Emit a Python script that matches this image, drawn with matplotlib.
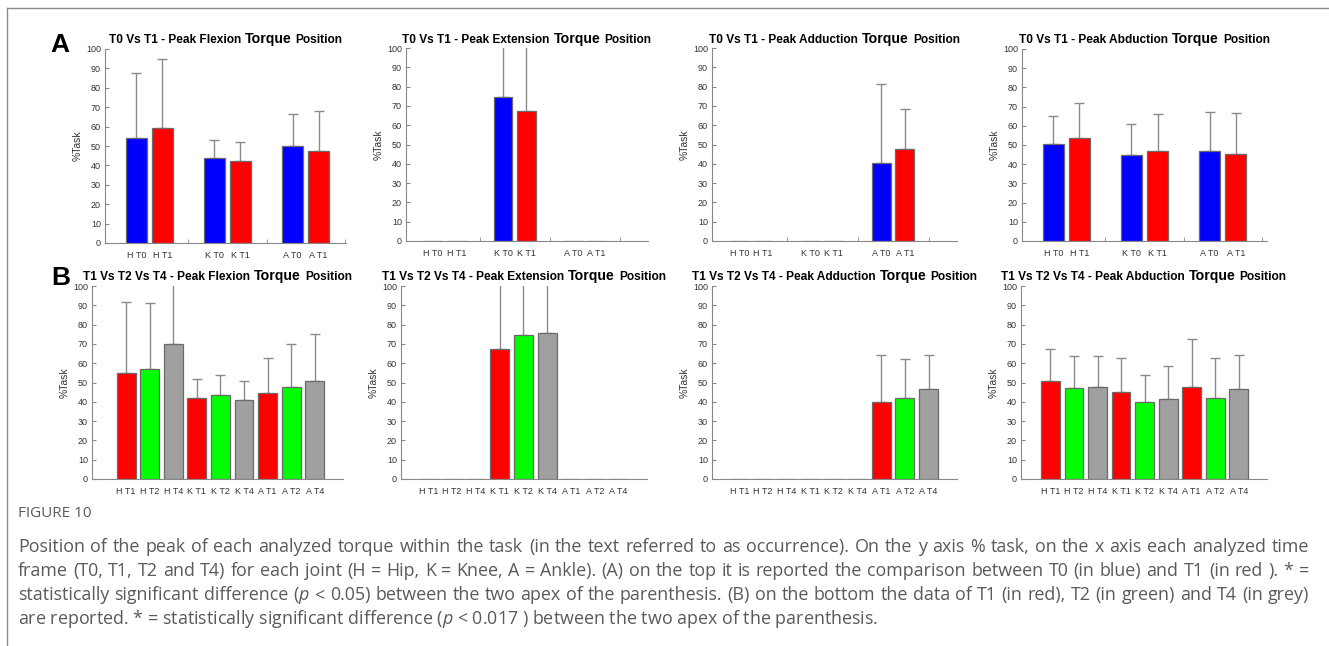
import numpy as np
import matplotlib
matplotlib.use("Agg")
import matplotlib.pyplot as plt
from matplotlib.lines import Line2D

W, H = 1329, 646
NA = np.nan

# --- data ---
top_labels = ["H T0", "H T1", "K T0", "K T1", "A T0", "A T1"]
top_pos = [1, 2, 4, 5, 7, 8]
top_colors = ["#0000ff", "#ff0000"] * 3

bot_labels = ["H T1", "H T2", "H T4", "K T1", "K T2", "K T4", "A T1", "A T2", "A T4"]
bot_pos = [1, 2, 3, 4, 5, 6, 7, 8, 9]
bot_colors = ["#ff0000", "#00ff00", "#a0a0a0"] * 3

flex_t01 = [54.0, 59.5, 43.7, 42.2, 50.1, 47.5]
flex_t01_sd = [33.8, 35.2, 9.3, 10.1, 16.3, 20.6]
ext_t01 = [NA, NA, 74.8, 67.5, NA, NA]
ext_t01_sd = [NA, NA, 40.0, 40.0, NA, NA]
add_t01 = [NA, NA, NA, NA, 40.3, 47.6]
add_t01_sd = [NA, NA, NA, NA, 41.0, 20.6]
abd_t01 = [50.6, 53.7, 44.7, 47.1, 46.8, 45.4]
abd_t01_sd = [14.6, 18.2, 16.1, 19.1, 20.6, 21.3]

flex_t124 = [55.0, 57.1, 70.2, 42.0, 43.6, 40.7, 44.8, 47.9, 50.9]
flex_t124_sd = [36.9, 34.2, 40.0, 9.9, 10.4, 10.2, 18.0, 22.3, 24.0]
ext_t124 = [NA, NA, NA, 67.5, 74.4, 75.6, NA, NA, NA]
ext_t124_sd = [NA, NA, NA, 40.0, 40.0, 40.0, NA, NA, NA]
add_t124 = [NA, NA, NA, NA, NA, NA, 40.1, 41.9, 46.7]
add_t124_sd = [NA, NA, NA, NA, NA, NA, 24.4, 20.4, 17.8]
abd_t124 = [51.0, 47.4, 47.6, 45.3, 40.0, 41.7, 47.9, 42.0, 46.7]
abd_t124_sd = [16.1, 16.1, 15.9, 17.2, 14.0, 17.0, 24.6, 20.5, 17.8]

panels = [
    # (pixel rect l, t, r, b), values, sd, row, movement, xlim
    ((105, 49, 346, 243), flex_t01, flex_t01_sd, "top", "Flexion", (-0.2, 9.05)),
    ((406, 48, 648, 241), ext_t01, ext_t01_sd, "top", "Extension", (-0.15, 10.2)),
    ((712, 48, 957, 241), add_t01, add_t01_sd, "top", "Adduction", (-0.15, 10.2)),
    ((1022, 49, 1267, 241), abd_t01, abd_t01_sd, "top", "Abduction", (-0.2, 9.2)),
    ((92, 286, 343, 479), flex_t124, flex_t124_sd, "bot", "Flexion", (-0.45, 10.2)),
    ((401, 286, 647, 479), ext_t124, ext_t124_sd, "bot", "Extension", (-0.15, 10.2)),
    ((712, 286, 957, 479), add_t124, add_t124_sd, "bot", "Adduction", (-0.15, 10.2)),
    ((1021, 286, 1267, 479), abd_t124, abd_t124_sd, "bot", "Abduction", (-0.25, 10.2)),
]

caption = [
    "Position of the peak of each analyzed torque within the task (in the text referred to as occurrence). On the y axis % task, on the x axis each analyzed time",
    "frame (T0, T1, T2 and T4) for each joint (H = Hip, K = Knee, A = Ankle). (A) on the top it is reported the comparison between T0 (in blue) and T1 (in red ). * =",
    r"statistically significant difference ($\mathit{p}$ < 0.05) between the two apex of the parenthesis. (B) on the bottom the data of T1 (in red), T2 (in green) and T4 (in grey)",
    r"are reported. * = statistically significant difference ($\mathit{p}$ < 0.017 ) between the two apex of the parenthesis.",
]

FONT = "Liberation Sans"
plt.rcParams["font.family"] = [FONT, "DejaVu Sans"]
plt.rcParams["mathtext.fontset"] = "custom"
plt.rcParams["mathtext.it"] = "Open Sans:italic"
plt.rcParams["mathtext.rm"] = "Open Sans"

fig = plt.figure(figsize=(W / 100, H / 100), dpi=100)
renderer = fig.canvas.get_renderer()


def px_rect(l, t, r, b):
    return [l / W, 1 - b / H, (r - l) / W, (b - t) / H]


def draw_title(ax, parts, base_px):
    """Title made of several bold pieces of different sizes, centred on the axes."""
    texts = [fig.text(0, 1 - base_px / H, s, fontsize=size, weight="bold",
                      va="baseline", ha="left") for s, size in parts]
    widths = [t.get_window_extent(renderer).width for t in texts]
    gap = 4
    total = sum(widths) + gap * (len(texts) - 1)
    bb = ax.get_window_extent(renderer)
    x = (bb.x0 + bb.x1) / 2 - total / 2
    for t, w in zip(texts, widths):
        t.set_x(x / W)
        x += w + gap


def justified_line(text, x0, x1, base_px, **kw):
    """Spread the words of one caption line between x0 and x1 (pixels)."""
    words = text.split(" ")
    texts = [fig.text(0, 1 - base_px / H, w, va="baseline", ha="left", **kw)
             for w in words]
    widths = [t.get_window_extent(renderer).width for t in texts]
    space = (x1 - x0 - sum(widths)) / (len(words) - 1)
    x = x0
    for t, w in zip(texts, widths):
        t.set_x(x / W)
        x += w + space


for rect, vals, sd, row, move, xlim in panels:
    ax = fig.add_axes(px_rect(*rect))
    if row == "top":
        pos, labels, colors = top_pos, top_labels, top_colors
        head = "T0 Vs T1 - Peak " + move
        base = 43
    else:
        pos, labels, colors = bot_pos, bot_labels, bot_colors
        head = "T1 Vs T2 Vs T4 - Peak " + move
        base = 280

    vals = np.array(vals, dtype=float)
    sd = np.array(sd, dtype=float)
    ax.bar(pos, np.nan_to_num(vals), width=0.8, color=colors,
           edgecolor="#6a6a6a", linewidth=0.9, zorder=2)
    ok = ~np.isnan(vals)
    ax.errorbar(np.array(pos)[ok], vals[ok],
                yerr=[np.zeros(ok.sum()), sd[ok]],
                fmt="none", ecolor="#8a8a8a", elinewidth=1.0,
                capsize=3.6, capthick=1.0, zorder=1)

    ax.set_xlim(*xlim)
    ax.set_ylim(0, 100)
    ax.set_yticks(np.arange(0, 101, 10))
    ax.set_xticks(pos)
    ax.set_xticklabels(labels)
    if row == "top":
        ax.set_xticks([3, 6, 9], minor=True)
    ax.tick_params(axis="x", which="major", length=0, pad=6,
                   labelsize=6.5, labelcolor="#333333")
    ax.tick_params(axis="x", which="minor", direction="in", length=3,
                   color="#888888")
    ax.tick_params(axis="y", direction="in", length=3, color="#888888",
                   labelsize=6.5, labelcolor="#333333", pad=3)
    for side in ("top", "right"):
        ax.spines[side].set_visible(False)
    for side in ("left", "bottom"):
        ax.spines[side].set_color("#888888")
        ax.spines[side].set_linewidth(0.8)
    ax.set_ylabel("%Task", fontsize=7.5, color="#333333", labelpad=2)

    draw_title(ax, [(head, 8.6), ("Torque", 10.2), ("Position", 8.6)], base)

# panel letters
fig.text(50 / W, 1 - 52 / H, "A", fontsize=19, weight="bold", va="baseline")
fig.text(51 / W, 1 - 285 / H, "B", fontsize=19, weight="bold", va="baseline")

# border lines (top and left)
fig.add_artist(Line2D([7 / W, 1], [1 - 8 / H, 1 - 8 / H], color="#8c8c8c",
                      linewidth=1.0, transform=fig.transFigure))
fig.add_artist(Line2D([7 / W, 7 / W], [0, 1 - 8 / H], color="#8c8c8c",
                      linewidth=1.0, transform=fig.transFigure))

# caption
cap_kw = dict(fontsize=12.9, color="#5a5a5a", family="Open Sans")
fig.text(18 / W, 1 - 517 / H, "FIGURE 10", va="baseline",
         **dict(cap_kw, fontsize=11))
for i, line in enumerate(caption):
    base = 552 + 24 * i
    if i < len(caption) - 1:
        justified_line(line, 18, 1309, base, **cap_kw)
    else:
        fig.text(18 / W, 1 - base / H, line, va="baseline", **cap_kw)

fig.savefig("out.png", dpi=100)
